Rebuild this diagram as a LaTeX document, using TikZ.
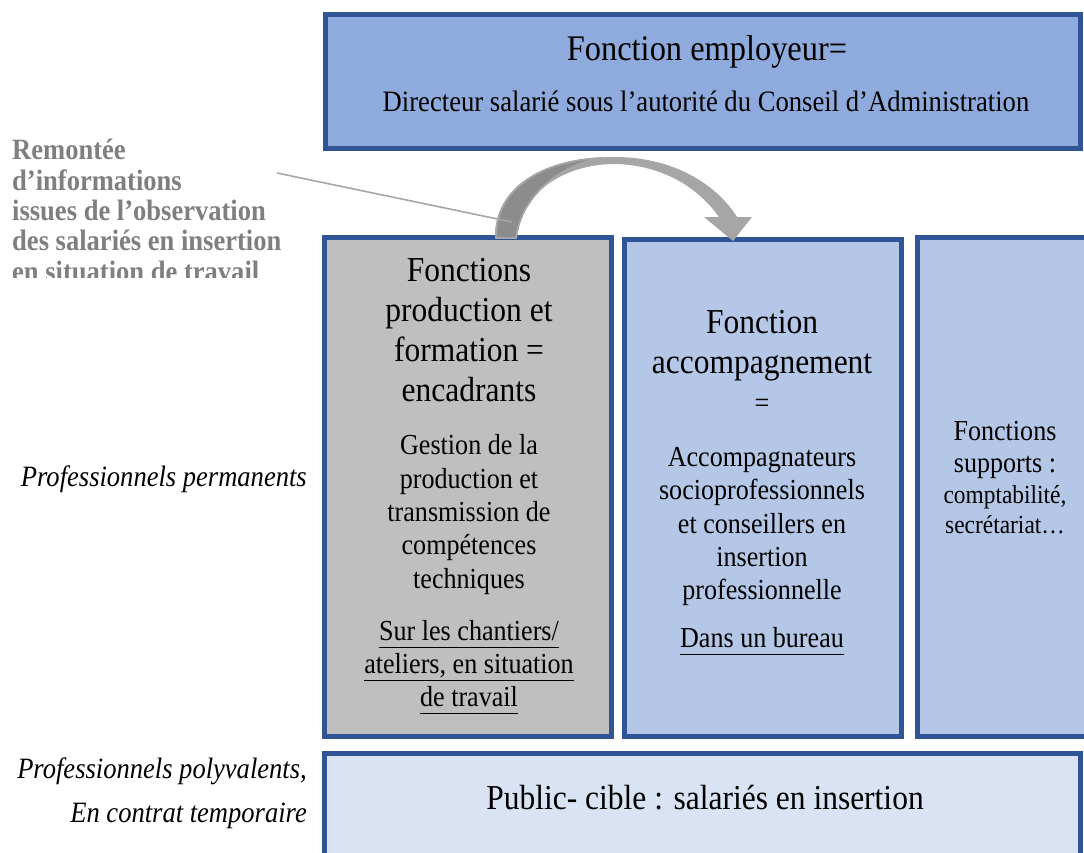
\documentclass[tikz,border=0pt]{standalone}
\usepackage{fontspec}
\setmainfont{Liberation Serif}[FakeStretch=0.9]
\newcommand{\myul}[1]{\setbox0\hbox{#1}\rlap{\rule[-8pt]{\wd0}{1.4pt}}\box0}
\definecolor{bord}{HTML}{2F5597}
\definecolor{topfill}{HTML}{8FAADC}
\definecolor{grayfill}{HTML}{BFBFBF}
\definecolor{bluefill}{HTML}{B4C7E7}
\definecolor{palefill}{HTML}{DAE3F3}
\definecolor{arrowlight}{HTML}{A6A6A6}
\definecolor{arrowdark}{HTML}{8C8C8C}
\definecolor{notegray}{HTML}{7F7F7F}
\begin{document}
\begin{tikzpicture}[x=1pt,y=-1pt,
  box/.style={draw=bord, line width=5pt, inner sep=0pt, outer sep=0pt, anchor=north west},
  txt/.style={anchor=base, inner sep=0pt, outer sep=0pt, text=black},
  big/.style={font=\fontsize{35}{40}\selectfont},
  mid/.style={font=\fontsize{29}{33}\selectfont},
  sml/.style={font=\fontsize{26}{29}\selectfont},
  side/.style={anchor=base east, inner sep=0pt, font=\fontsize{29.5}{33}\selectfont\itshape},
  note/.style={anchor=base west, inner sep=0pt, text=notegray, font=\fontsize{29.5}{30}\selectfont\bfseries},
  pointer/.style={draw=arrowlight, line width=1.6pt}]
\useasboundingbox (0,0) rectangle (1084,852);
\clip (0,0) rectangle (1084,852);

% boxes
\node[box, fill=topfill, minimum width=755pt, minimum height=134pt] (emp) at (325.5,14.5) {};
\node[box, fill=grayfill, minimum width=287pt, minimum height=499pt] (prod) at (324.5,237.5) {};
\node[box, fill=bluefill, minimum width=277pt, minimum height=497pt] (acc) at (624.5,239.5) {};
\node[box, fill=bluefill, minimum width=200pt, minimum height=499pt] (sup) at (917.5,237.5) {};
\node[box, fill=palefill, minimum width=756pt, minimum height=130pt] (pub) at (324.5,753.5) {};

% top box text
\node[txt, font=\fontsize{36}{40}\selectfont] (e1) at (707,60) {Fonction employeur=};
\node[txt, font=\fontsize{29.6}{33}\selectfont] (e2) at (706,111) {Directeur salarié sous l’autorité du Conseil d’Administration};

% production box
\node[txt, big] (p1) at (469,281) {Fonctions};
\node[txt, big] (p2) at (469,321) {production et};
\node[txt, big] (p3) at (469,361) {formation =};
\node[txt, big] (p4) at (469,401) {encadrants};
\node[txt, mid] (p5) at (469,454) {Gestion de la};
\node[txt, mid] (p6) at (469,488) {production et};
\node[txt, mid] (p7) at (469,521) {transmission de};
\node[txt, mid] (p8) at (469,554) {compétences};
\node[txt, mid] (p9) at (469,588) {techniques};
\node[txt, mid] (p10) at (469,640) {\myul{Sur les chantiers/}};
\node[txt, mid] (p11) at (469,673) {\myul{ateliers, en situation}};
\node[txt, mid] (p12) at (469,706) {\myul{de travail}};

% accompagnement box
\node[txt, big] (a1) at (762,333) {Fonction};
\node[txt, big] (a2) at (762,373) {accompagnement};
\node[txt, mid] (a3) at (762,412) {=};
\node[txt, mid] (a4) at (762,466) {Accompagnateurs};
\node[txt, mid] (a5) at (762,499.5) {socioprofessionnels};
\node[txt, mid] (a6) at (762,533) {et conseillers en};
\node[txt, mid] (a7) at (762,566) {insertion};
\node[txt, mid] (a8) at (762,599.5) {professionnelle};
\node[txt, mid] (a9) at (762,647) {\myul{Dans un bureau}};

% supports box
\node[txt, mid] (s1) at (1005,440) {Fonctions};
\node[txt, mid] (s2) at (1005,472) {supports :};
\node[txt, sml] (s3) at (1005,503) {comptabilité,};
\node[txt, sml] (s4) at (1005,533) {secrétariat…};

% public box
\node[txt, big] (b1) at (705,809) {Public- cible : salariés en insertion};

% side labels
\node[side] (l1) at (307,486) {Professionnels permanents};
\node[side] (l2) at (307,778) {Professionnels polyvalents,};
\node[side] (l3) at (307,822) {En contrat temporaire};

% note text (clipped)
\begin{scope}
\clip (0,120) rectangle (320,277);
\node[note] (n1) at (12,159) {Remontée};
\node[note] (n2) at (12,190) {d’informations};
\node[note] (n3) at (12,220) {issues de l’observation};
\node[note] (n4) at (12,250) {des salariés en insertion};
\node[note] (n5) at (12,281) {en situation de travail};
\end{scope}

% curved block arrow
\fill[arrowlight] (495,238) .. controls (494,186) and (545,157) .. (615,157)
  .. controls (675,157) and (718,186) .. (737,217) -- (752,217) -- (733,241) -- (704,217) -- (719,217)
  .. controls (700,190) and (665,165) .. (615,164)
  .. controls (565,164) and (520,192) .. (517,238) -- cycle;
\filldraw[fill=arrowdark, draw=arrowlight, line width=1.8pt]
  (496,238) .. controls (495,190) and (540,160) .. (603,158)
  .. controls (565,163) and (522,192) .. (516,238) -- cycle;

% pointer line
\coordinate (lstart) at (277,173);
\coordinate (lend) at (512,222);
\draw[pointer] (lstart) -- (lend);
\end{tikzpicture}
\end{document}
